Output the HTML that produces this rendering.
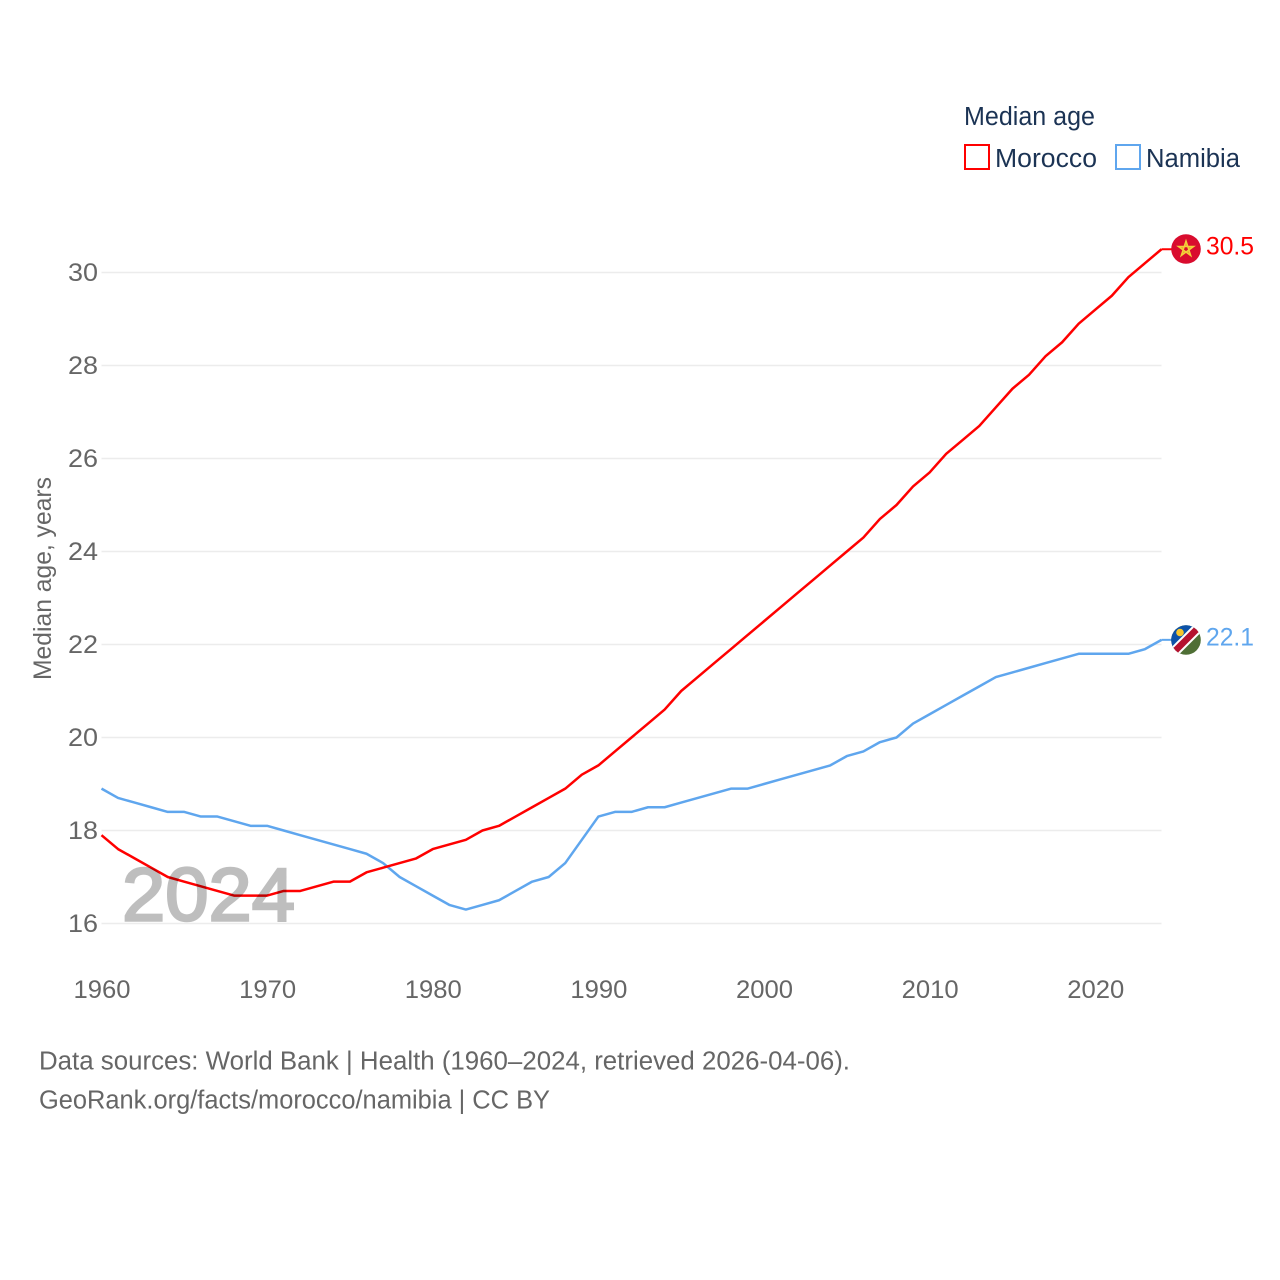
<!DOCTYPE html>
<html lang="en">
<head>
<meta charset="utf-8">
<title>Median age: Morocco and Namibia</title>
<style>
html,body{margin:0;padding:0;background:#fff;}
svg{display:block;}
text{font-family:"Liberation Sans",sans-serif;}
</style>
</head>
<body>
<svg id="chart" xmlns="http://www.w3.org/2000/svg" width="1280" height="1280" viewBox="0 0 1280 1280">
  <defs>
    <clipPath id="namibia-clip"><circle cx="1186" cy="640" r="14.8"/></clipPath>
  </defs>
  <rect x="0" y="0" width="1280" height="1280" fill="#ffffff"/>

  <g id="grid"></g>
  <g id="y-ticks"></g>
  <g id="x-ticks"></g>

  <text transform="translate(51,680) rotate(-90)" font-size="25" fill="#666666" textLength="203" lengthAdjust="spacingAndGlyphs">Median age, years</text>

  <g id="series"></g>

  <g opacity="0.25">
    <text x="122" y="920.5" font-size="75" font-weight="400" fill="#000000" stroke="#000000" stroke-width="2.5" textLength="173" lengthAdjust="spacingAndGlyphs">2024</text>
  </g>

  <text x="964" y="125" font-size="25.5" fill="#1b3354" textLength="131" lengthAdjust="spacingAndGlyphs">Median age</text>
  <rect x="965" y="145" width="24" height="24" fill="#ffffff" stroke="#ff0000" stroke-width="2"/>
  <text x="995" y="167" font-size="25.5" fill="#1b3354" textLength="102" lengthAdjust="spacingAndGlyphs">Morocco</text>
  <rect x="1116" y="145" width="24" height="24" fill="#ffffff" stroke="#5fa6ee" stroke-width="2"/>
  <text x="1146" y="167" font-size="25.5" fill="#1b3354" textLength="94" lengthAdjust="spacingAndGlyphs">Namibia</text>

  <g id="morocco-flag">
    <circle cx="1186" cy="249" r="14.8" fill="#d90c2e"/>
    <polygon points="1186,241 1190.7,255.5 1178.4,246.5 1193.6,246.5 1181.3,255.5" fill="#e9a52c" fill-rule="evenodd" stroke="#f2cf3a" stroke-width="1.5" stroke-linejoin="miter"/>
  </g>

  <g id="namibia-flag" clip-path="url(#namibia-clip)">
    <rect x="1170" y="623" width="32" height="33" fill="#4f6f35"/>
    <polygon points="1168,622 1204,622 1168,658" fill="#0d52a8"/>
    <line x1="1169" y1="657" x2="1203" y2="623" stroke="#ffffff" stroke-width="10.5"/>
    <line x1="1169" y1="657" x2="1203" y2="623" stroke="#b5122f" stroke-width="6.5"/>
    <circle cx="1180" cy="632.5" r="3.8" fill="#f6c52d"/>
  </g>

  <text id="end-label-morocco" x="1206" y="254.5" font-size="25" fill="#ff0000" textLength="48" lengthAdjust="spacingAndGlyphs"></text>
  <text id="end-label-namibia" x="1206" y="645.5" font-size="25" fill="#5fa6ee" textLength="48" lengthAdjust="spacingAndGlyphs"></text>

  <text x="39" y="1069.5" font-size="25.5" fill="#666666" textLength="811" lengthAdjust="spacingAndGlyphs">Data sources: World Bank | Health (1960–2024, retrieved 2026-04-06).</text>
  <text x="39" y="1108.5" font-size="25.5" fill="#666666" textLength="511" lengthAdjust="spacingAndGlyphs">GeoRank.org/facts/morocco/namibia | CC BY</text>
</svg>

<script>
const startYear = 1960;
const moroccoValues = [17.9,17.6,17.4,17.2,17.0,16.9,16.8,16.7,16.6,16.6,16.6,16.7,16.7,16.8,16.9,16.9,17.1,17.2,17.3,17.4,17.6,17.7,17.8,18.0,18.1,18.3,18.5,18.7,18.9,19.2,19.4,19.7,20.0,20.3,20.6,21.0,21.3,21.6,21.9,22.2,22.5,22.8,23.1,23.4,23.7,24.0,24.3,24.7,25.0,25.4,25.7,26.1,26.4,26.7,27.1,27.5,27.8,28.2,28.5,28.9,29.2,29.5,29.9,30.2,30.5];
const namibiaValues = [18.9,18.7,18.6,18.5,18.4,18.4,18.3,18.3,18.2,18.1,18.1,18.0,17.9,17.8,17.7,17.6,17.5,17.3,17.0,16.8,16.6,16.4,16.3,16.4,16.5,16.7,16.9,17.0,17.3,17.8,18.3,18.4,18.4,18.5,18.5,18.6,18.7,18.8,18.9,18.9,19.0,19.1,19.2,19.3,19.4,19.6,19.7,19.9,20.0,20.3,20.5,20.7,20.9,21.1,21.3,21.4,21.5,21.6,21.7,21.8,21.8,21.8,21.8,21.9,22.1];
const yTickValues = [16,18,20,22,24,26,28,30];
const xTickValues = [1960,1970,1980,1990,2000,2010,2020];

const SVG_NS = 'http://www.w3.org/2000/svg';
const xScale = function (year) { return 101.5 + (year - 1960) * (1060 / 64); };
const yScale = function (value) { return 923.5 - (value - 16) * 46.5; };

const gridGroup = document.getElementById('grid');
const yTickGroup = document.getElementById('y-ticks');
const xTickGroup = document.getElementById('x-ticks');
const seriesGroup = document.getElementById('series');

yTickValues.forEach(function (tick) {
  const line = document.createElementNS(SVG_NS, 'line');
  
  
  line.setAttribute('x1', xScale(1960));
  line.setAttribute('x2', xScale(2024));
  line.setAttribute('y1', yScale(tick));
  line.setAttribute('y2', yScale(tick));
  line.setAttribute('stroke', '#ececec');
  line.setAttribute('stroke-width', '1.5');
  gridGroup.appendChild(line);

  const label = document.createElementNS(SVG_NS, 'text');
  
  
  label.setAttribute('x', 68);
  label.setAttribute('y', yScale(tick) + 8.5);
  label.setAttribute('font-size', '25');
  label.setAttribute('fill', '#666666');
  label.setAttribute('textLength', '30');
  label.setAttribute('lengthAdjust', 'spacingAndGlyphs');
  label.textContent = String(tick);
  yTickGroup.appendChild(label);
});

xTickValues.forEach(function (tick) {
  const label = document.createElementNS(SVG_NS, 'text');
  
  
  label.setAttribute('x', xScale(tick) - 28);
  label.setAttribute('y', 998);
  label.setAttribute('font-size', '25');
  label.setAttribute('fill', '#666666');
  label.setAttribute('textLength', '57');
  label.setAttribute('lengthAdjust', 'spacingAndGlyphs');
  label.textContent = String(tick);
  xTickGroup.appendChild(label);
});

function linePoints(values) {
  return values.map(function (value, index) {
    return xScale(startYear + index).toFixed(2) + ',' + yScale(value).toFixed(2);
  }).join(' ');
}

const namibiaLine = document.createElementNS(SVG_NS, 'polyline');


namibiaLine.setAttribute('points', linePoints(namibiaValues));
namibiaLine.setAttribute('fill', 'none');
namibiaLine.setAttribute('stroke', '#5fa6ee');
namibiaLine.setAttribute('stroke-width', '2.5');
namibiaLine.setAttribute('stroke-linejoin', 'round');
seriesGroup.appendChild(namibiaLine);

const moroccoLine = document.createElementNS(SVG_NS, 'polyline');


moroccoLine.setAttribute('points', linePoints(moroccoValues));
moroccoLine.setAttribute('fill', 'none');
moroccoLine.setAttribute('stroke', '#ff0000');
moroccoLine.setAttribute('stroke-width', '2.5');
moroccoLine.setAttribute('stroke-linejoin', 'round');
seriesGroup.appendChild(moroccoLine);

const lastIndex = moroccoValues.length - 1;
const lastYear = startYear + lastIndex;

const moroccoConnector = document.createElementNS(SVG_NS, 'line');


moroccoConnector.setAttribute('x1', xScale(lastYear));
moroccoConnector.setAttribute('x2', xScale(lastYear) + 11);
moroccoConnector.setAttribute('y1', yScale(moroccoValues[lastIndex]));
moroccoConnector.setAttribute('y2', yScale(moroccoValues[lastIndex]));
moroccoConnector.setAttribute('stroke', '#ff0000');
moroccoConnector.setAttribute('stroke-width', '2');
seriesGroup.appendChild(moroccoConnector);

const namibiaConnector = document.createElementNS(SVG_NS, 'line');


namibiaConnector.setAttribute('x1', xScale(lastYear));
namibiaConnector.setAttribute('x2', xScale(lastYear) + 11);
namibiaConnector.setAttribute('y1', yScale(namibiaValues[lastIndex]));
namibiaConnector.setAttribute('y2', yScale(namibiaValues[lastIndex]));
namibiaConnector.setAttribute('stroke', '#5fa6ee');
namibiaConnector.setAttribute('stroke-width', '2');
seriesGroup.appendChild(namibiaConnector);

document.getElementById('end-label-morocco').textContent = moroccoValues[lastIndex].toFixed(1);
document.getElementById('end-label-namibia').textContent = namibiaValues[lastIndex].toFixed(1);
</script>
</body>
</html>
